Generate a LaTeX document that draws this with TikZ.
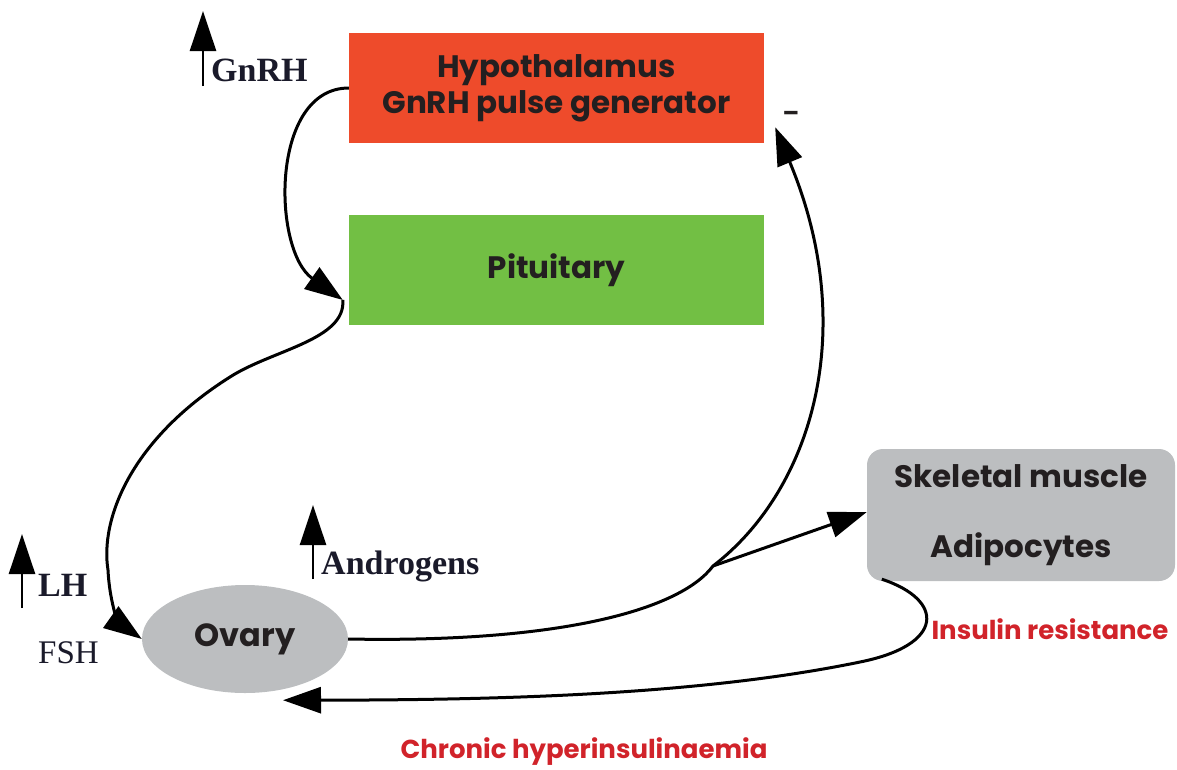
\documentclass[tikz,border=0pt]{standalone}
\usepackage{fontspec}
\setmainfont{Liberation Serif}
\newfontfamily\fut{Poppins}
\usetikzlibrary{arrows.meta,shapes.geometric,calc}
\definecolor{hypred}{HTML}{EE4B2B}
\definecolor{pitgreen}{HTML}{72BF44}
\definecolor{boxgray}{HTML}{BCBEC0}
\definecolor{txtred}{HTML}{D1232A}
\definecolor{txtdark}{HTML}{231F20}
\definecolor{serifdark}{HTML}{1A1A2A}
\tikzset{
  boxtext/.style={font=\fut\bfseries\fontsize{31}{36}\selectfont, text=txtdark, align=center},
  hypbox/.style={boxtext, fill=hypred, minimum width=415pt, minimum height=110pt, inner sep=0pt},
  pitbox/.style={boxtext, fill=pitgreen, minimum width=415pt, minimum height=110pt, inner sep=0pt},
  skelbox/.style={boxtext, fill=boxgray, rounded corners=16pt, minimum width=308pt, minimum height=132pt, inner sep=0pt},
  ovarybox/.style={boxtext, ellipse, fill=boxgray, minimum width=206pt, minimum height=108pt, inner sep=0pt},
  redlabel/.style={font=\fut\bfseries\fontsize{26}{30}\selectfont, text=txtred, inner sep=0pt},
  seriflabel/.style={font=\bfseries\fontsize{34}{38}\selectfont, text=serifdark, inner sep=0pt, anchor=west},
  conn/.style={line width=3pt, -{Triangle[length=38pt,width=26pt]}},
  uparrow/.style={line width=2.5pt, -{Triangle[length=40pt,width=26pt]}}
}
\begin{document}
\begin{tikzpicture}[x=1pt,y=-1pt]
\useasboundingbox (0,0) rectangle (1177,769);
% boxes
\node[hypbox] (hyp) at (556.5,88) {Hypothalamus\\GnRH pulse generator};
\node[pitbox] (pit) at (556.5,270) {Pituitary};
\node[skelbox] (skel) at (1021,515) {Skeletal muscle\\[34pt]Adipocytes};
\node[ovarybox, font=\fut\bfseries\fontsize{32}{36}\selectfont] (ov) at (245,639) {Ovary};
% labels
\node[seriflabel] (gnrh) at (211,70) {GnRH};
\node[seriflabel] (lh) at (38,585) {LH};
\node[seriflabel, font=\fontsize{33}{36}\selectfont] (fsh) at (38,653) {FSH};
\node[seriflabel] (andro) at (321,566) {Androgens};
\node[font=\fut\bfseries\fontsize{24}{28}\selectfont, text=txtdark, inner sep=0pt] (minus) at (791,116) {–};
\node[redlabel] (insres) at (1050,629) {Insulin resistance};
\node[redlabel] (chronic) at (584,752) {Chronic hyperinsulinaemia};
% up arrows
\coordinate (gnrhA) at (203,86);
\coordinate (gnrhB) at (203,11);
\coordinate (lhA) at (22,608);
\coordinate (lhB) at (22,534);
\coordinate (androA) at (313,579);
\coordinate (androB) at (313,505);
\draw[uparrow] (gnrhA) -- (gnrhB);
\draw[uparrow] (lhA) -- (lhB);
\draw[uparrow] (androA) -- (androB);
% connectors
\draw[conn] (hyp.west) .. controls (270,88) and (272,250) .. ([xshift=-6pt,yshift=-30pt]pit.west);
\draw[conn] ([xshift=-6pt,yshift=-30pt]pit.west) .. controls (346,340) and (272,350) .. (230,377)
   .. controls (130,440) and (100,520) .. (108,570)
   .. controls (110,610) and (122,625) .. (ov.west);
\coordinate (br) at (713,566);
\draw[conn] (ov.east) .. controls (560,643) and (680,610) .. (br)
   .. controls (812,490) and (860,330) .. ([xshift=11pt,yshift=16pt]hyp.south east);
\draw[conn] (br) -- ([yshift=3pt]skel.west);
\draw[conn] ([xshift=15pt,yshift=2pt]skel.south west) .. controls (945,600) and (945,645) .. (860,662)
   .. controls (700,695) and (500,700) .. ([xshift=38pt,yshift=-7pt]ov.south);
\end{tikzpicture}
\end{document}
